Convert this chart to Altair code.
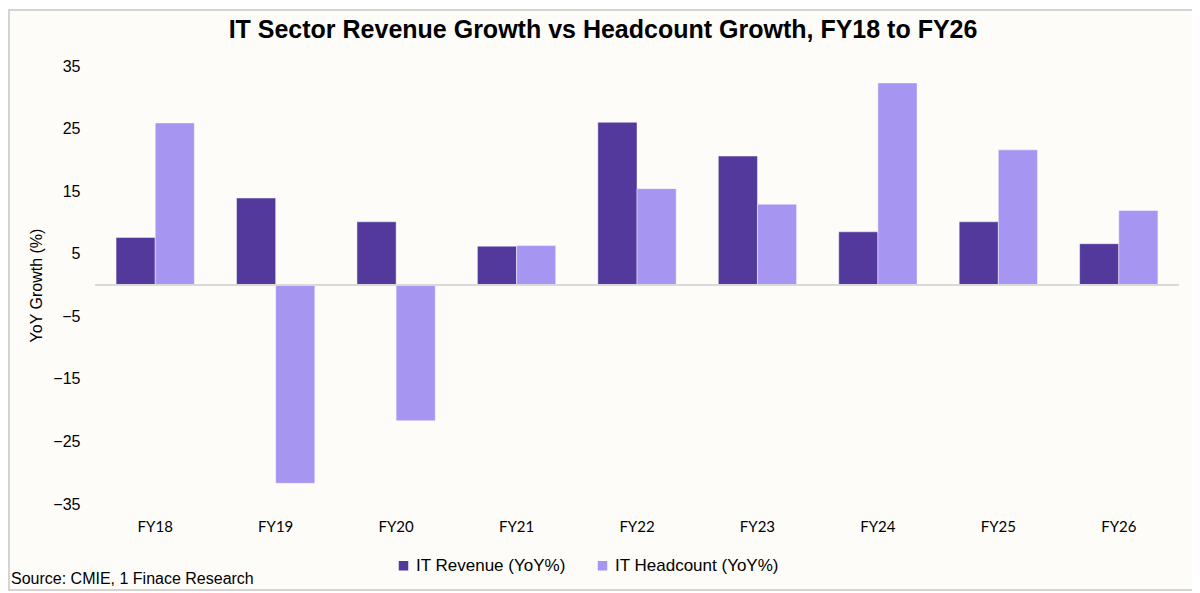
import altair as alt
import pandas as pd

years = ["FY18", "FY19", "FY20", "FY21", "FY22", "FY23", "FY24", "FY25", "FY26"]
revenue = [7.6, 13.9, 10.1, 6.2, 26.0, 20.6, 8.5, 10.1, 6.6]
headcount = [25.9, -31.7, -21.7, 6.3, 15.4, 12.9, 32.3, 21.6, 11.9]
series = ["IT Revenue (YoY%)", "IT Headcount (YoY%)"]
colors = ["#52399B", "#A696F2"]
y_ticks = [-35, -25, -15, -5, 5, 15, 25, 35]
title_text = "IT Sector Revenue Growth vs Headcount Growth, FY18 to FY26"
source_text = "Source: CMIE, 1 Finace Research"

rows = []
for i, yr in enumerate(years):
    rows.append({"year": yr, "series": series[0], "value": revenue[i]})
    rows.append({"year": yr, "series": series[1], "value": headcount[i]})
df = pd.DataFrame(rows)
one = pd.DataFrame({"k": [0]})

W, H = 1084, 438

bars = alt.Chart(df).mark_bar(stroke="#ffffff", strokeOpacity=0.45, strokeWidth=1).encode(
    x=alt.X("year:N", sort=years,
            scale=alt.Scale(paddingInner=0.35, paddingOuter=0.175),
            axis=alt.Axis(title=None, domain=False, ticks=False, labelAngle=0,
                          labelFont="Lato", labelFontSize=15,
                          labelColor="#000000", labelPadding=15)),
    xOffset=alt.XOffset("series:N", sort=series),
    y=alt.Y("value:Q",
            scale=alt.Scale(domain=[-35, 35], nice=False, zero=False),
            axis=alt.Axis(title="YoY Growth (%)", values=y_ticks, domain=False, ticks=False,
                          grid=False, labelFont="Liberation Sans", labelFontSize=16,
                          labelColor="#000000", labelPadding=15,
                          titleFont="Liberation Sans", titleFontSize=16,
                          titleFontWeight="normal", titleColor="#000000", titlePadding=8)),
    color=alt.Color("series:N", sort=series,
                    scale=alt.Scale(domain=series, range=colors),
                    legend=alt.Legend(title=None, orient="none", direction="horizontal",
                                      legendX=300, legendY=491,
                                      symbolType="square", symbolSize=90,
                                      symbolStrokeWidth=0,
                                      labelFont="Liberation Sans", labelFontSize=17,
                                      labelColor="#000000", columnPadding=28,
                                      labelOffset=4, labelLimit=400)),
)

zero = alt.Chart(df).mark_rule(color="#D9D9D9", strokeWidth=2).encode(y=alt.datum(0))

source = alt.Chart(one).mark_text(
    text=source_text, align="left", baseline="middle",
    font="Liberation Sans", fontSize=16, color="#000000"
).encode(x=alt.value(-84), y=alt.value(513))

title = alt.Chart(one).mark_text(
    text=title_text, align="center", baseline="alphabetic",
    font="Liberation Sans", fontSize=25, fontWeight="bold", color="#000000"
).encode(x=alt.value(508), y=alt.value(-28))

frame = alt.Chart(one).mark_rect(filled=False, stroke="#D4D4D4", strokeWidth=2).encode(
    x=alt.value(-86), x2=alt.value(1103), y=alt.value(-56), y2=alt.value(524))

chart = alt.layer(frame, bars, zero, source, title).properties(
    width=W, height=H,
    autosize=alt.AutoSizeParams(type="none"),
    padding={"left": 87, "top": 58, "right": 13, "bottom": 88},
    background="#FDFCF8",
).configure_view(stroke=None)

chart.save("out.html", embed_options={"renderer": "svg", "actions": False})
